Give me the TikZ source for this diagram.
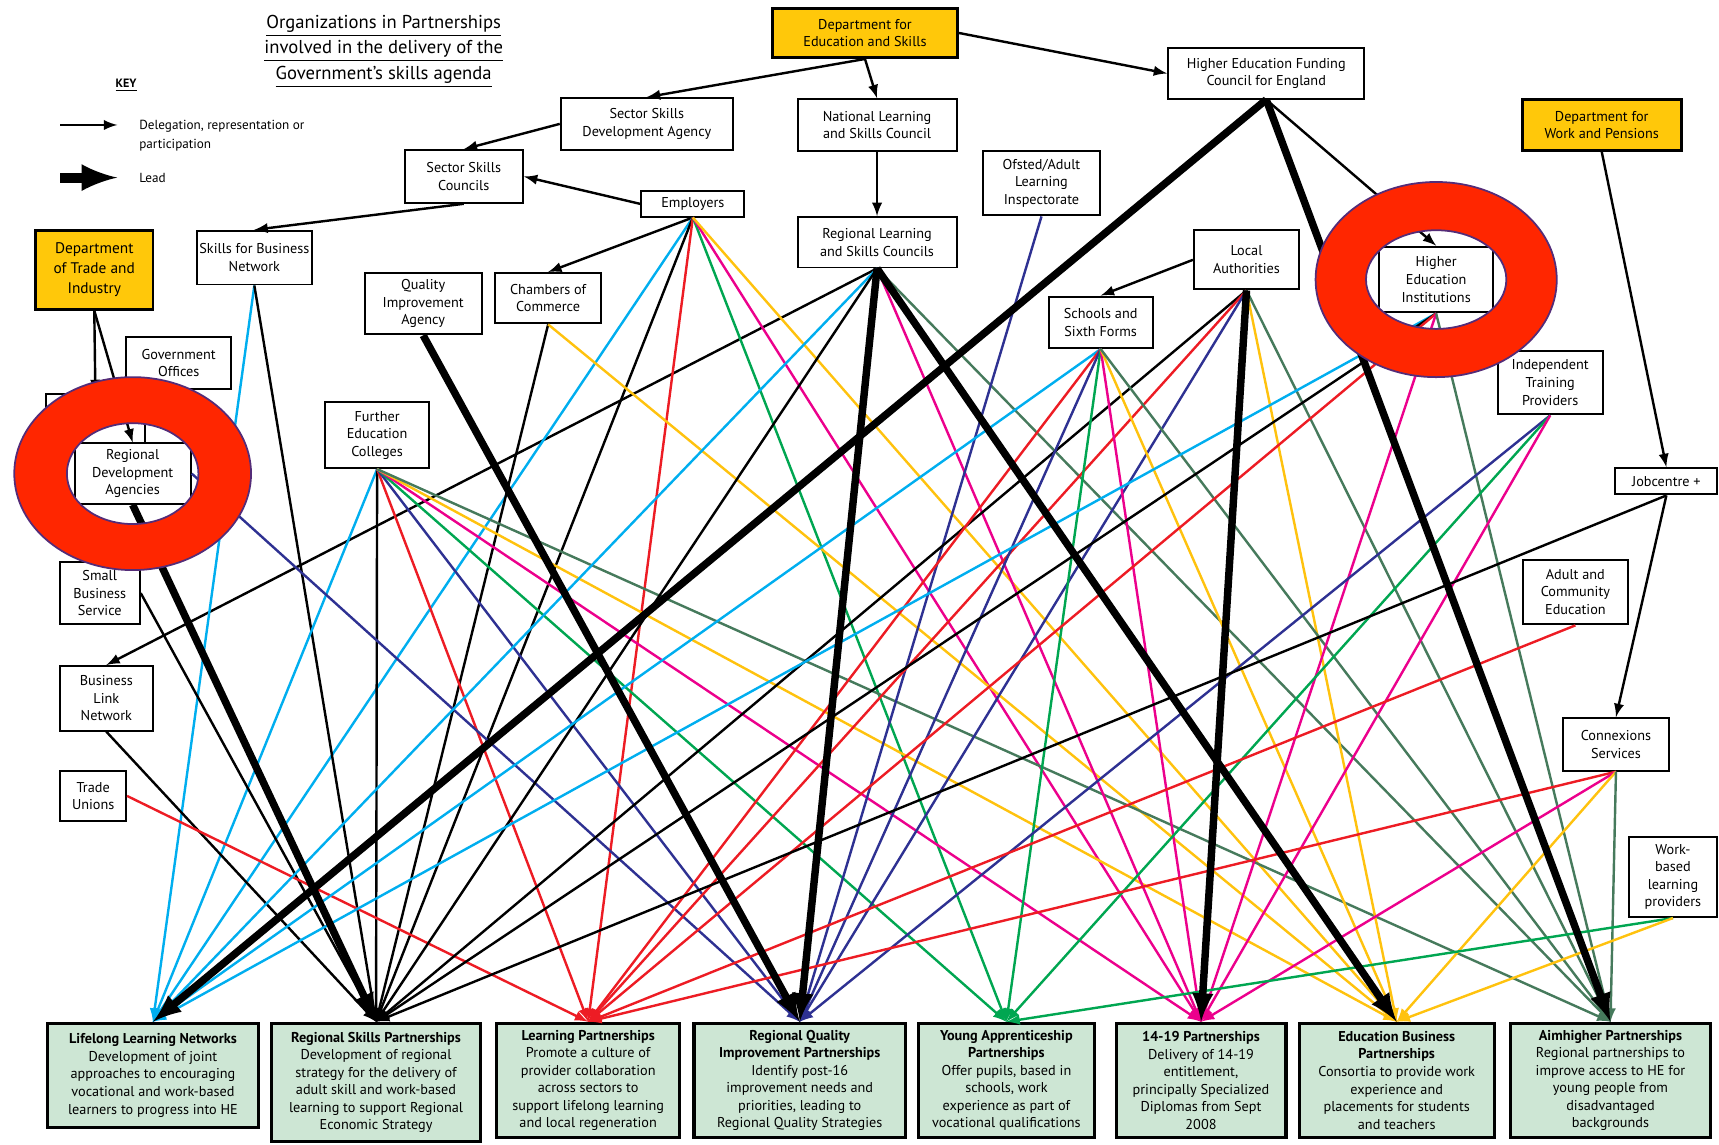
\documentclass[tikz,border=0pt]{standalone}
\usepackage{fontspec}
\setmainfont{PT Sans}
\setsansfont{PT Sans}

\definecolor{deskyellow}{RGB}{255,200,10}
\definecolor{goalgreen}{RGB}{205,230,212}
\definecolor{llncol}{RGB}{0,174,239}
\definecolor{lpcol}{RGB}{237,28,36}
\definecolor{rqcol}{RGB}{46,49,146}
\definecolor{yapcol}{RGB}{0,166,81}
\definecolor{ptcol}{RGB}{236,0,140}
\definecolor{ebpcol}{RGB}{255,194,14}
\definecolor{aimcol}{RGB}{70,122,92}
\definecolor{ringred}{RGB}{255,38,0}
\definecolor{ringedge}{RGB}{84,44,120}

\begin{document}
\begin{tikzpicture}[x=0.5pt, y=-0.5pt, >=latex,
  org node/.style={draw, line width=0.9pt, fill=white, align=center, font=\fontsize{6.5}{8}\selectfont, inner sep=1pt},
  yellow node/.style={org node, fill=deskyellow, line width=1.3pt},
  goal node/.style={draw, line width=1.4pt, fill=goalgreen, align=center, anchor=north, font=\fontsize{6.5}{8}\selectfont, inner sep=2pt},
  link/.style={->, line width=1.1pt},
  lead/.style={->, line width=3.4pt}]
  \useasboundingbox (0,0) rectangle (1568,1044);

  \node[align=center, font=\fontsize{8.5}{11.5}\selectfont] (title) at (350,47) {\underline{Organizations in Partnerships}\\\underline{involved in the delivery of the}\\\underline{Government’s skills agenda}};
  \node[font=\fontsize{5.5}{7}\selectfont\bfseries] (keyhead) at (115,78) {\underline{KEY}};
  \coordinate (keya) at (55,114);
  \coordinate (keyb) at (107,114);
  \coordinate (keyc) at (55,162);
  \coordinate (keyd) at (107,162);
  \node[anchor=north west, align=left, font=\fontsize{6}{8.5}\selectfont] (keydel) at (120,103) {Delegation, representation or\\participation};
  \node[anchor=west, font=\fontsize{6}{8.5}\selectfont] (keylead) at (120,162) {Lead};

  \node[yellow node, minimum width=84pt, minimum height=22.5pt] (dfes) at (789,30) {Department for\\Education and Skills};
  \node[org node, minimum width=89.5pt, minimum height=23pt] (hefce) at (1155,67) {Higher Education Funding\\Council for England};
  \node[yellow node, minimum width=72.5pt, minimum height=23pt] (dwp) at (1461,114) {Department for\\Work and Pensions};
  \node[org node, minimum width=78.5pt, minimum height=23.5pt] (ssda) at (590,113) {Sector Skills\\Development Agency};
  \node[org node, minimum width=72.5pt, minimum height=23.5pt] (nlsc) at (800,114) {National Learning\\and Skills Council};
  \node[org node, minimum width=54pt, minimum height=24pt] (ssc) at (423,161) {Sector Skills\\Councils};
  \node[org node, minimum width=47pt, minimum height=11.5pt] (employers) at (632,186) {Employers};
  \node[org node, minimum width=53pt, minimum height=29.5pt] (ofsted) at (950,167) {Ofsted/Adult\\Learning\\Inspectorate};
  \node[org node, minimum width=72.5pt, minimum height=23pt] (rlsc) at (800,221) {Regional Learning\\and Skills Councils};
  \node[yellow node, minimum width=53.5pt, minimum height=36pt, font=\fontsize{7}{9}\selectfont] (dti) at (86,246) {Department\\of Trade and\\Industry};
  \node[org node, minimum width=52.5pt, minimum height=24.5pt] (sfbn) at (232,235) {Skills for Business\\Network};
  \node[org node, minimum width=53.5pt, minimum height=28pt] (qia) at (386,277) {Quality\\Improvement\\Agency};
  \node[org node, minimum width=48.5pt, minimum height=23pt] (chambers) at (500,272) {Chambers of\\Commerce};
  \node[org node, minimum width=48pt, minimum height=27pt] (la) at (1137,237) {Local\\Authorities};
  \node[org node, minimum width=47.5pt, minimum height=23.5pt] (ssf) at (1004,294) {Schools and\\Sixth Forms};
  \node[org node, minimum width=52pt, minimum height=30pt] (hei) at (1310,255) {Higher\\Education\\Institutions};
  \node[org node, minimum width=48pt, minimum height=23.5pt] (gov) at (163,331) {Government\\Offices};
  \node[org node, minimum width=45pt, minimum height=22.5pt] (hidden) at (87,382) {};
  \node[org node, minimum width=53pt, minimum height=27.5pt] (rda) at (121,432) {Regional\\Development\\Agencies};
  \node[org node, minimum width=36.5pt, minimum height=28.5pt] (sbs) at (91,541) {Small\\Business\\Service};
  \node[org node, minimum width=42.5pt, minimum height=29.5pt] (bln) at (97,637) {Business\\Link\\Network};
  \node[org node, minimum width=30pt, minimum height=23pt] (unions) at (85,726) {Trade\\Unions};
  \node[org node, minimum width=47.5pt, minimum height=30pt] (fec) at (344,397) {Further\\Education\\Colleges};
  \node[org node, minimum width=48pt, minimum height=29pt] (itp) at (1414,349) {Independent\\Training\\Providers};
  \node[org node, minimum width=46.5pt, minimum height=12pt] (job) at (1520,439) {Jobcentre +};
  \node[org node, minimum width=48pt, minimum height=29.5pt] (ace) at (1437,540) {Adult and\\Community\\Education};
  \node[org node, minimum width=48pt, minimum height=24pt] (cnx) at (1474,679) {Connexions\\Services};
  \node[org node, minimum width=40.5pt, minimum height=36.5pt] (wbl) at (1526,800) {Work-\\based\\learning\\providers};

  \node[goal node, minimum width=96.5pt, minimum height=47.5pt] (lln) at (139.5,932) {\textbf{Lifelong Learning Networks}\\Development of joint\\approaches to encouraging\\vocational and work-based\\learners to progress into HE};
  \node[goal node, minimum width=95pt, minimum height=54pt] (rsp) at (343,932) {\textbf{Regional Skills Partnerships}\\Development of regional\\strategy for the delivery of\\adult skill and work-based\\learning to support Regional\\Economic Strategy};
  \node[goal node, minimum width=83.5pt, minimum height=52pt] (lp) at (536.5,932) {\textbf{Learning Partnerships}\\Promote a culture of\\provider collaboration\\across sectors to\\support lifelong learning\\and local regeneration};
  \node[goal node, minimum width=96.5pt, minimum height=52pt] (rqip) at (729.5,932) {\textbf{Regional Quality}\\\textbf{Improvement Partnerships}\\Identify post-16\\improvement needs and\\priorities, leading to\\Regional Quality Strategies};
  \node[goal node, minimum width=80pt, minimum height=52pt] (yap) at (918,932) {\textbf{Young Apprenticeship}\\\textbf{Partnerships}\\Offer pupils, based in\\schools, work\\experience as part of\\vocational qualifications};
  \node[goal node, minimum width=77.5pt, minimum height=52pt] (p1419) at (1095.5,932) {\textbf{14-19 Partnerships}\\Delivery of 14-19\\entitlement,\\principally Specialized\\Diplomas from Sept\\2008};
  \node[goal node, minimum width=89pt, minimum height=52pt] (ebp) at (1274,932) {\textbf{Education Business}\\\textbf{Partnerships}\\Consortia to provide work\\experience and\\placements for students\\and teachers};
  \node[goal node, minimum width=91pt, minimum height=52pt] (aim) at (1469,932) {\textbf{Aimhigher Partnerships}\\Regional partnerships to\\improve access to HE for\\young people from\\disadvantaged\\backgrounds};

  \draw[link] (keya) -- (keyb);
  \draw[lead, line width=4.5pt] (keyc) -- (keyd);

  \path[link]
    (dfes.south) edge (ssda.north)
                 edge (nlsc.north)
    (dfes.east) edge (hefce.west)
    (ssda.west) edge (ssc.north)
    (ssc.south) edge (sfbn.north)
    (employers.west) edge (ssc.east)
    (employers.south) edge (chambers.north)
    (nlsc.south) edge (rlsc.north)
    (la.west) edge (ssf.north)
    (hefce.south) edge (hei.north)
    (dwp.south) edge (job.north)
    (job.south) edge (cnx.north)
    (dti.south) edge (rda.north)
                edge (hidden.north)
    (rlsc.south) edge (bln.north);

  \path[link]
    (employers.south) edge[llncol] (lln.north)
                      edge (rsp.north)
                      edge[lpcol] (lp.north)
                      edge[yapcol] (yap.north)
                      edge[ptcol] (p1419.north)
                      edge[ebpcol] (ebp.north)
    (sfbn.south) edge[llncol] (lln.north)
                 edge (rsp.north)
    (chambers.south) edge (rsp.north)
                     edge[ebpcol] (ebp.north)
    (fec.south) edge[llncol] (lln.north)
                edge (rsp.north)
                edge[lpcol] (lp.north)
                edge[rqcol] (rqip.north)
                edge[yapcol] (yap.north)
                edge[ptcol] (p1419.north)
                edge[ebpcol] (ebp.north)
                edge[aimcol] (aim.north)
    (rda.east) edge[rqcol] (rqip.north)
    (sbs.east) edge (rsp.north)
    (bln.south) edge (rsp.north)
    (unions.east) edge[lpcol] (lp.north)
    (rlsc.south) edge[llncol] (lln.north)
                 edge (rsp.north)
                 edge[ptcol] (p1419.north)
                 edge[aimcol] (aim.north)
    (ofsted.south) edge[rqcol] (rqip.north)
    (la.south) edge (rsp.north)
               edge[lpcol] (lp.north)
               edge[rqcol] (rqip.north)
               edge[ebpcol] (ebp.north)
               edge[aimcol] (aim.north)
    (ssf.south) edge[llncol] (lln.north)
                edge[lpcol] (lp.north)
                edge[rqcol] (rqip.north)
                edge[yapcol] (yap.north)
                edge[ptcol] (p1419.north)
                edge[ebpcol] (ebp.north)
                edge[aimcol] (aim.north)
    (hei.south) edge[llncol] (lln.north)
                edge (rsp.north)
                edge[lpcol] (lp.north)
                edge[ptcol] (p1419.north)
                edge[aimcol] (aim.north)
    (itp.south) edge[rqcol] (rqip.north)
                edge[yapcol] (yap.north)
                edge[ptcol] (p1419.north)
    (job.south) edge (rsp.north)
    (ace.south) edge[lpcol] (lp.north)
    (cnx.south) edge[lpcol] (lp.north)
                edge[ptcol] (p1419.north)
                edge[ebpcol] (ebp.north)
                edge[aimcol] (aim.north)
    (wbl.south) edge[yapcol] (yap.north)
                edge[ebpcol] (ebp.north);

  \path[lead]
    (rda.south) edge (rsp.north)
    (qia.south) edge (rqip.north)
    (rlsc.south) edge (rqip.north)
                 edge (ebp.north)
    (hefce.south) edge (lln.north)
                  edge (aim.north)
    (la.south) edge (p1419.north);

  \fill[ringred, draw=ringedge, line width=0.8pt, even odd rule]
    (rda) ellipse [x radius=108, y radius=88] (rda) ellipse [x radius=60, y radius=46];
  \fill[ringred, draw=ringedge, line width=0.8pt, even odd rule]
    (hei) ellipse [x radius=110, y radius=89] (hei) ellipse [x radius=64, y radius=45];
\end{tikzpicture}
\end{document}
